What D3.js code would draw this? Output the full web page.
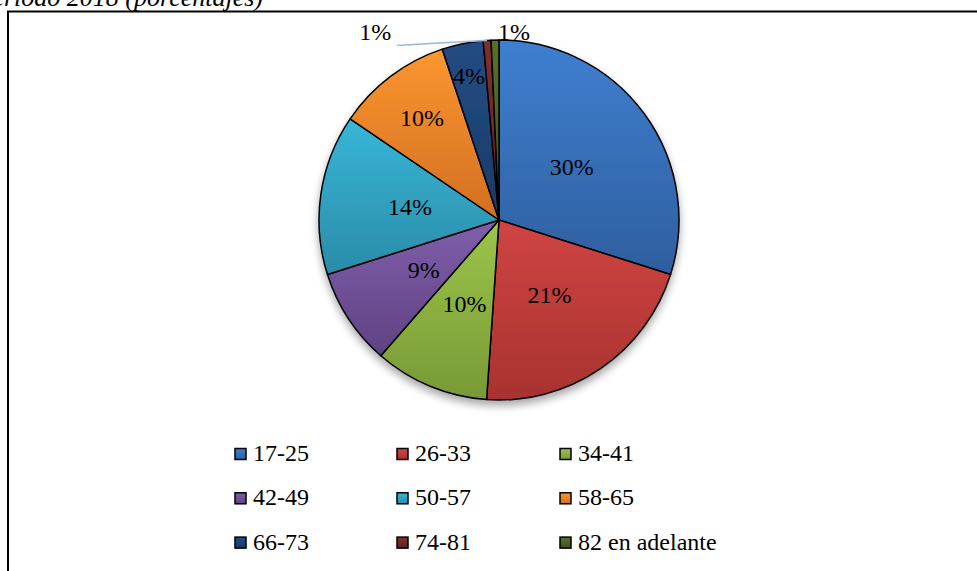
<!DOCTYPE html>
<html><head><meta charset="utf-8">
<script src="https://cdn.jsdelivr.net/npm/d3@7/dist/d3.min.js"></script>
<style>
html,body{margin:0;padding:0;background:#fff;}
svg{display:block;}
svg text{font-family:'Liberation Serif','Times New Roman',Times,serif;}
</style></head>
<body>
<svg id="chart" width="977" height="571"></svg>
<script>
// ---- data ----
const categories = ["17-25","26-33","34-41","42-49","50-57","58-65","66-73","74-81","82 en adelante"];
const values = [29.9, 21.2, 10.3, 8.7, 14.4, 10.4, 3.7, 0.7, 0.7];
const labels = ["30%","21%","10%","9%","14%","10%","4%","1%","1%"];
const titleText = "período 2018 (porcentajes)";
// ---- styles ----
const colorsTop = ["#3f7fd0","#d04542","#9cc54a","#7f5fab","#38b6d8","#fc9630","#234c83","#80302d","#57702d"];
const colorsBot = ["#2e5f9f","#a83230","#789936","#5f4283","#2a8ca8","#d26f22","#1a3b67","#5e2120","#3f5320"];
const labelDist = [0.5,0.5,0.5,0.5,0.5,0.71,0.82,null,null];
const FONT = "'Liberation Serif','Times New Roman',Times,serif";

const svg = d3.select("#chart");
const W = 977, H = 571;
const cx = 499, cy = 220, R = 180;

const defs = svg.append("defs");
categories.forEach((c,i)=>{
  const g = defs.append("linearGradient").attr("id","g"+i)
    .attr("x1",0).attr("y1",0).attr("x2",0).attr("y2",1);
  g.append("stop").attr("offset","0%").attr("stop-color",colorsTop[i]);
  g.append("stop").attr("offset","100%").attr("stop-color",colorsBot[i]);
});
const f = defs.append("filter").attr("id","shadow").attr("x","-20%").attr("y","-20%").attr("width","140%").attr("height","150%");
f.append("feGaussianBlur").attr("in","SourceAlpha").attr("stdDeviation",4);
f.append("feOffset").attr("dx",0).attr("dy",5).attr("result","b");
f.append("feComponentTransfer").append("feFuncA").attr("type","linear").attr("slope",0.35);
const fm = f.append("feMerge"); fm.append("feMergeNode"); fm.append("feMergeNode").attr("in","SourceGraphic");

function txt(sel){ return sel.append("text").attr("font-family",FONT).attr("font-size",24).attr("fill","#000"); }

// title (cut off at top, as in the source)
txt(svg).attr("x",263).attr("y",6).attr("text-anchor","end").attr("font-size",26)
  .attr("font-style","italic").text(titleText);

// border box
svg.append("rect").attr("x",8).attr("y",11.5).attr("width",W+20).attr("height",H+20)
  .attr("fill","none").attr("stroke","#000").attr("stroke-width",2);

const pie = d3.pie().sort(null).value(d=>d).startAngle(0).endAngle(2*Math.PI);
const arcs = pie(values);
const arc = d3.arc().innerRadius(0).outerRadius(R);

const gp = svg.append("g").attr("transform",`translate(${cx},${cy})`);
const gSh = gp.append("g").attr("filter","url(#shadow)");
gSh.selectAll("path").data(arcs).join("path")
  .attr("d",arc).attr("fill",(d,i)=>`url(#g${i})`)
  .attr("stroke","#000").attr("stroke-width",1.5).attr("stroke-linejoin","round");

arcs.forEach((d,i)=>{
  const a = (d.startAngle+d.endAngle)/2;
  if (labelDist[i] !== null) {
    const r = R*labelDist[i];
    txt(gp).attr("x",r*Math.sin(a)).attr("y",-r*Math.cos(a))
      .attr("text-anchor","middle").attr("dy","0.35em").text(labels[i]);
  }
});
{
  const d = arcs[7]; const a = (d.startAngle+d.endAngle)/2;
  const px = R*Math.sin(a), py = -R*Math.cos(a);
  const lx = px - 90, ly = py + 5;
  gp.append("path").attr("d",`M${px},${py} Q${(px+lx)/2},${py+2} ${lx},${ly}`)
    .attr("fill","none").attr("stroke","#9cb8de").attr("stroke-width",1.5);
  txt(gp).attr("x",lx-22).attr("y",py).attr("text-anchor","middle").text(labels[7]);
}
{
  const d = arcs[8]; const a = (d.startAngle+d.endAngle)/2;
  const px = R*Math.sin(a), py = -R*Math.cos(a);
  txt(gp).attr("x",px+19).attr("y",py).attr("text-anchor","middle").text(labels[8]);
}

// legend
const colX = [235, 397, 560];
const rowY = [461, 505.3, 549.6];
categories.forEach((c,i)=>{
  const x = colX[i%3], y = rowY[Math.floor(i/3)];
  svg.append("rect").attr("x",x).attr("y",y-12.5).attr("width",11).attr("height",11)
    .attr("fill",`url(#g${i})`).attr("stroke","#000").attr("stroke-width",1.5);
  txt(svg).attr("x",x+18).attr("y",y).text(c);
});
</script>
</body></html>
